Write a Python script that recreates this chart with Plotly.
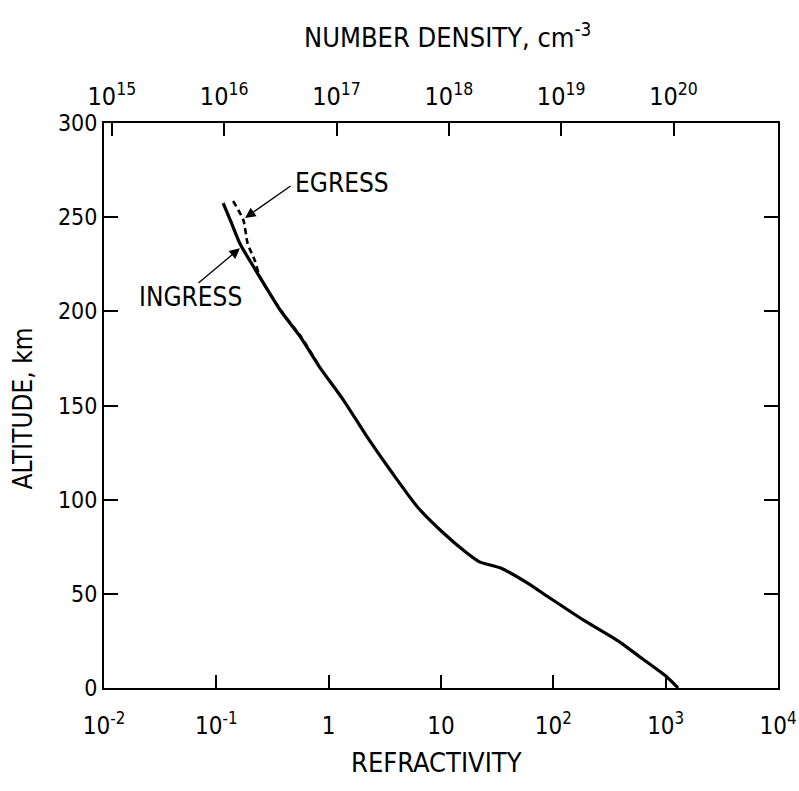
import plotly.graph_objects as go

# Ingress profile (solid)
ingress_alt = [257.5, 248, 236, 218, 200.7, 186.4, 170.4, 153, 133.3, 114, 96, 82.3, 71.7, 67, 63.7, 55.7, 47.8, 36, 24.4, 16.5, 6, 0]
ingress_ref = [0.115, 0.134, 0.162, 0.245, 0.37, 0.56, 0.83, 1.35, 2.2, 3.7, 6.2, 10.5, 17, 22, 34, 59, 93, 186, 390, 590, 1020, 1290]

# Egress profile (dashed)
egress_alt = [258.6, 248.5, 236, 227, 218, 200, 186, 170]
egress_ref = [0.141, 0.174, 0.19, 0.22, 0.245, 0.38, 0.575, 0.84]

bottom_tickvals = [1e-2, 1e-1, 1, 10, 1e2, 1e3, 1e4]
bottom_ticktext = ["10<sup>-2</sup>", "10<sup>-1</sup>", "1", "10",
                   "10<sup>2</sup>", "10<sup>3</sup>", "10<sup>4</sup>"]
top_tickvals = [1e15, 1e16, 1e17, 1e18, 1e19, 1e20]
top_ticktext = ["10<sup>15</sup>", "10<sup>16</sup>", "10<sup>17</sup>",
                "10<sup>18</sup>", "10<sup>19</sup>", "10<sup>20</sup>"]
alt_ticks = [0, 50, 100, 150, 200, 250, 300]

FONT = "DejaVu Sans Condensed, Liberation Sans Narrow, Arial Narrow, sans-serif"

fig = go.Figure()
fig.add_trace(go.Scatter(x=ingress_ref, y=ingress_alt, mode="lines", name="INGRESS",
                         line=dict(color="black", width=3.2, shape="spline", smoothing=0.6),
                         hoverinfo="skip"))
fig.add_trace(go.Scatter(x=egress_ref, y=egress_alt, mode="lines", name="EGRESS",
                         line=dict(color="black", width=2.6, dash="6px,4px", shape="spline", smoothing=0.6),
                         hoverinfo="skip"))
# invisible trace to activate the top number-density axis
fig.add_trace(go.Scatter(x=[1e15, 1e20], y=[0, 0], xaxis="x2", mode="lines",
                         line=dict(color="rgba(0,0,0,0)"), hoverinfo="skip", showlegend=False))

fig.update_layout(
    width=799, height=791,
    margin=dict(l=104, r=21, t=123, b=103),
    paper_bgcolor="white", plot_bgcolor="white",
    showlegend=False,
    font=dict(family=FONT, color="black", size=24),
    xaxis=dict(type="log", range=[-2, 4], tickvals=bottom_tickvals, ticktext=bottom_ticktext,
               ticks="inside", ticklen=13, tickwidth=2, tickcolor="black",
               showline=True, linecolor="black", linewidth=2, mirror=True,
               showgrid=False, zeroline=False, automargin=False, ticklabelstandoff=15,
               tickfont=dict(size=24, family=FONT)),
    xaxis2=dict(type="log", range=[14.93, 20.93], overlaying="x", side="top",
                tickvals=top_tickvals, ticktext=top_ticktext,
                ticks="inside", ticklen=13, tickwidth=2, tickcolor="black",
                showline=False, showgrid=False, zeroline=False, automargin=False,
                ticklabelstandoff=12, tickfont=dict(size=25, family=FONT)),
    yaxis=dict(range=[0, 300], tickvals=alt_ticks,
               ticks="inside", ticklen=14, tickwidth=2, tickcolor="black",
               showline=True, linecolor="black", linewidth=2, mirror="ticks",
               showgrid=False, zeroline=False, automargin=False,
               tickfont=dict(size=23, family=FONT)),
)

annotations = [
    dict(text="REFRACTIVITY", xref="paper", yref="paper", x=0.494, y=-0.131,
         xanchor="center", yanchor="middle", showarrow=False, font=dict(size=27)),
    dict(text="NUMBER DENSITY, cm<sup>-3</sup>", xref="paper", yref="paper", x=0.51, y=1.155,
         xanchor="center", yanchor="middle", showarrow=False, font=dict(size=27)),
    dict(text="ALTITUDE, km", xref="paper", yref="paper", x=-0.12, y=0.495, textangle=-90,
         xanchor="center", yanchor="middle", showarrow=False, font=dict(size=26)),
    dict(text="EGRESS", xref="x", yref="y", x=-0.317, y=268, xanchor="left", yanchor="middle",
         showarrow=False, font=dict(size=26)),
    dict(text="INGRESS", xref="x", yref="y", x=-1.706, y=207.6, xanchor="left", yanchor="middle",
         showarrow=False, font=dict(size=26)),
    dict(text="", xref="x", yref="y", x=-0.744, y=249.6, ax=47, ay=-33,
         showarrow=True, arrowhead=2, arrowsize=1.6, arrowwidth=1.3, arrowcolor="black", standoff=0),
    dict(text="", xref="x", yref="y", x=-0.79, y=233.5, ax=-43, ay=36,
         showarrow=True, arrowhead=2, arrowsize=1.6, arrowwidth=1.3, arrowcolor="black", standoff=0),
]
fig.update_layout(annotations=annotations)

fig.write_html("out.html")
